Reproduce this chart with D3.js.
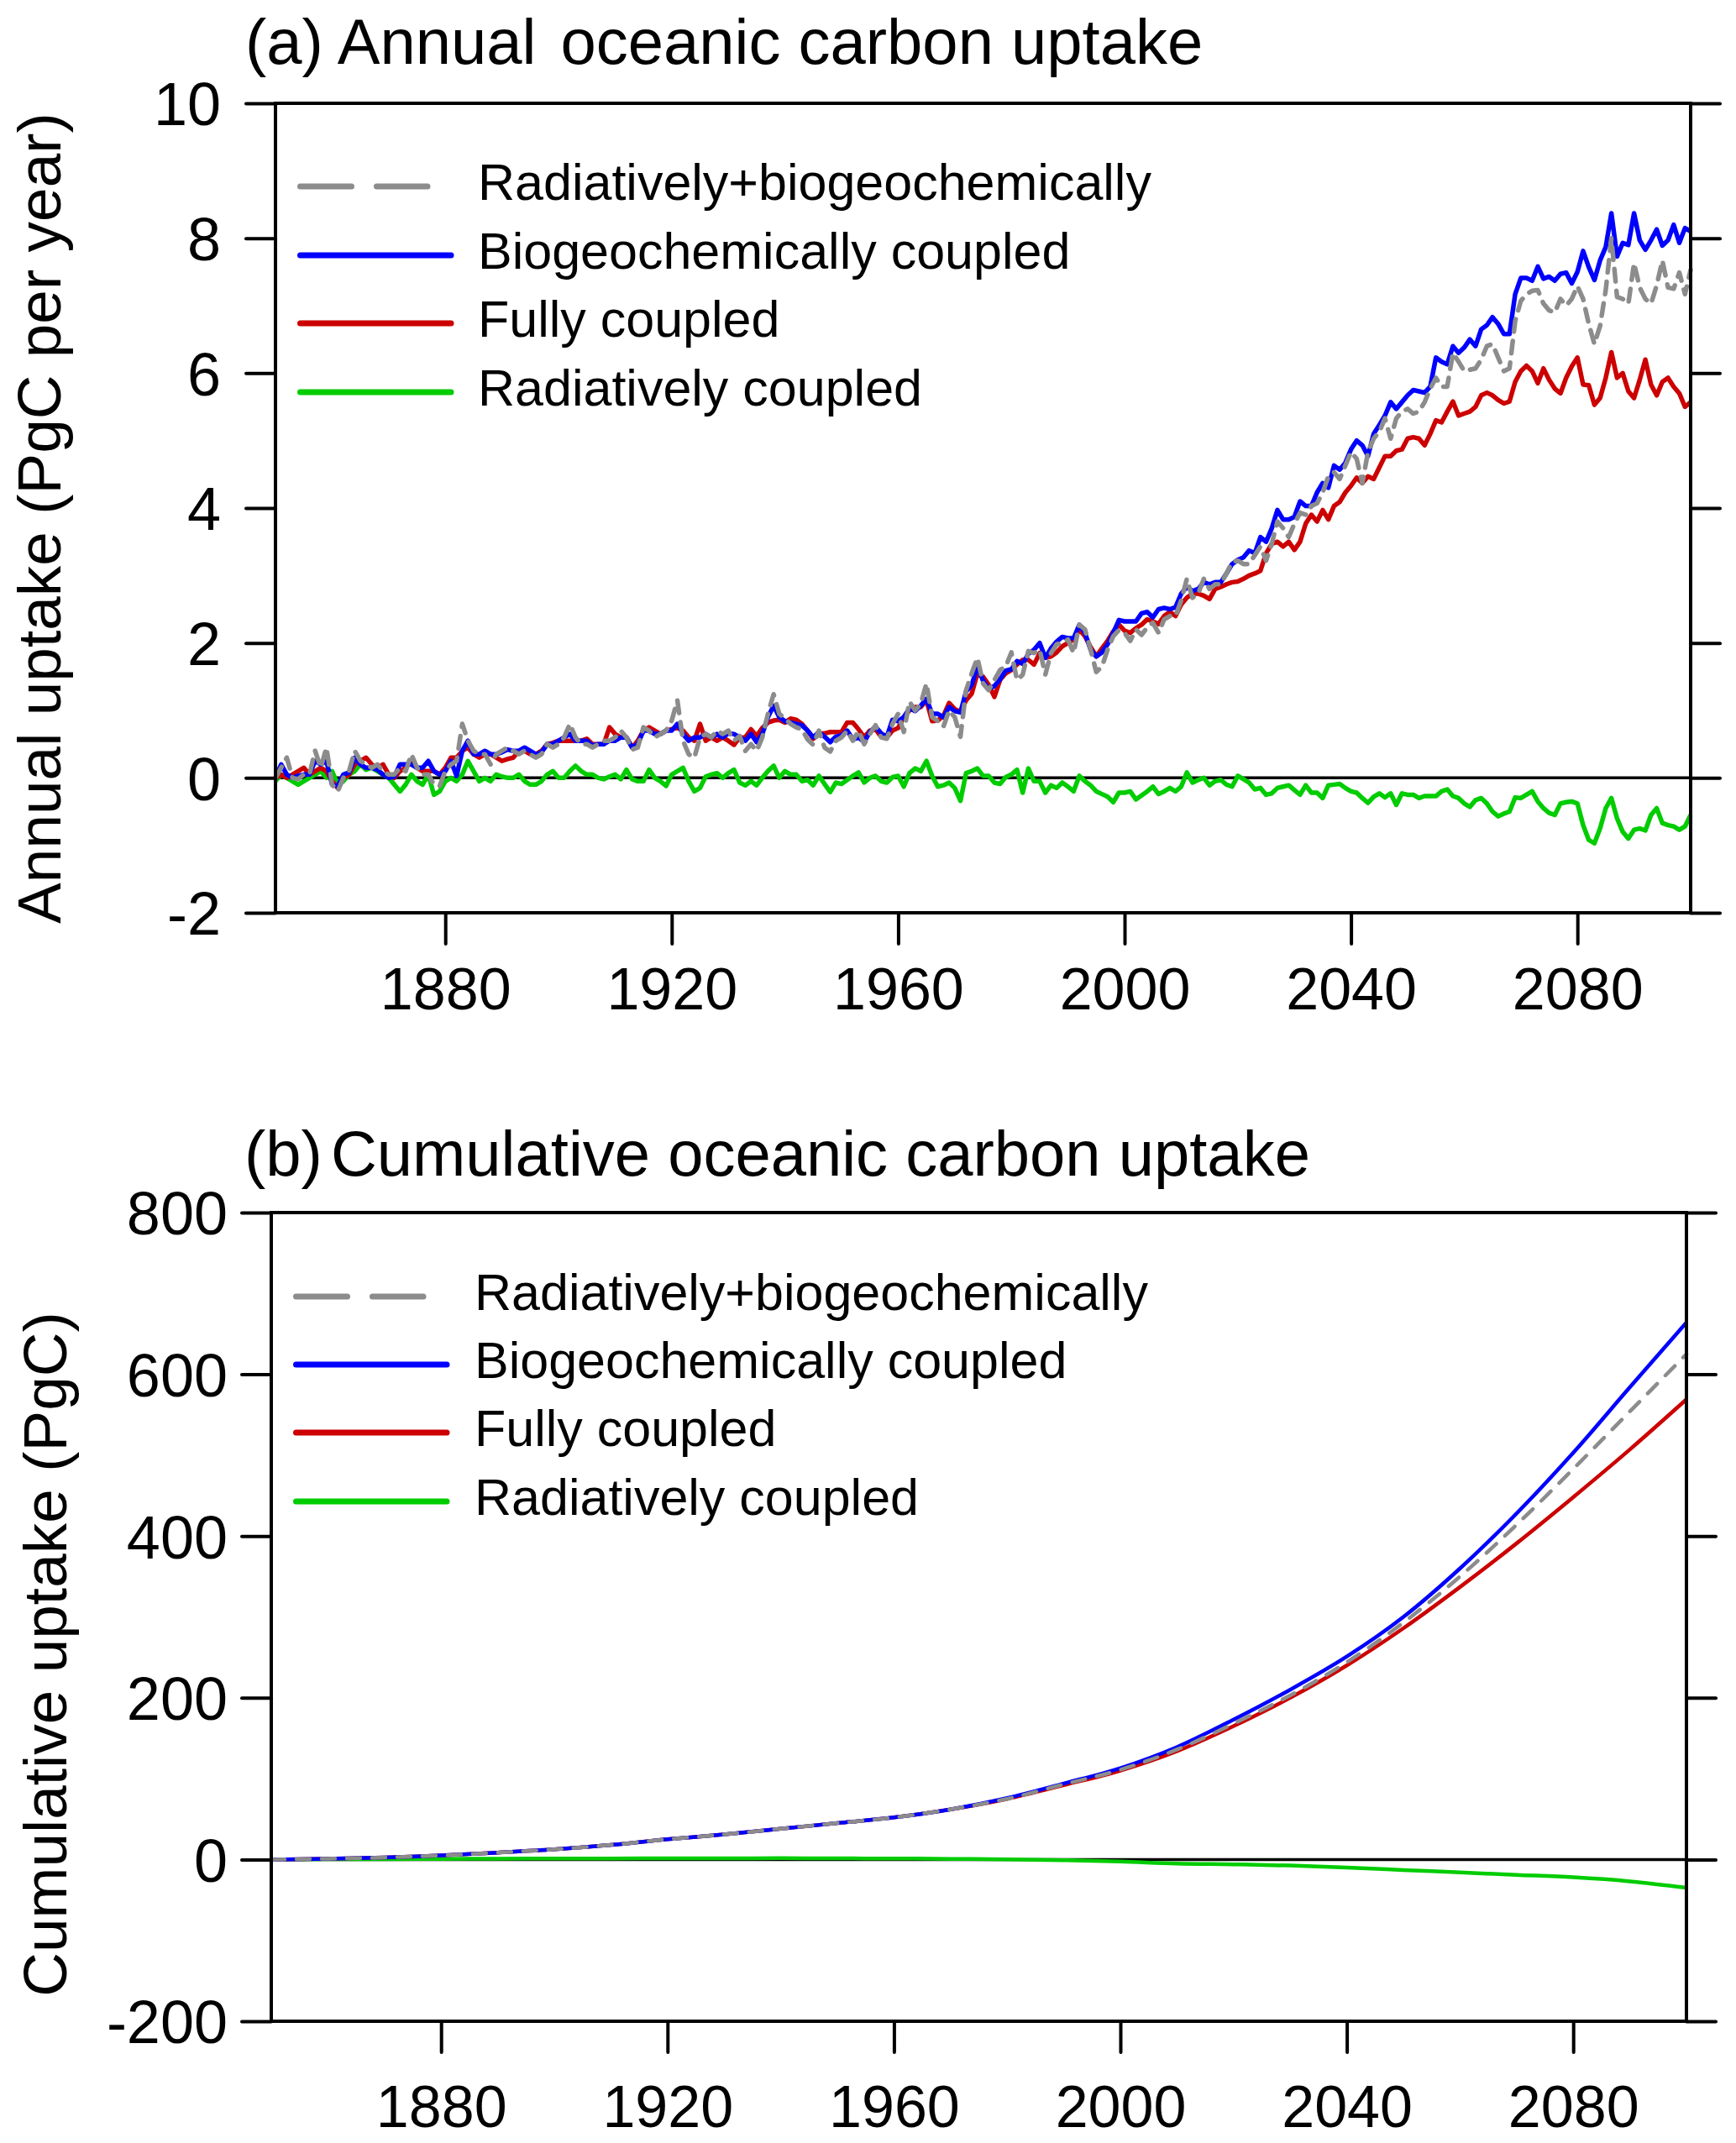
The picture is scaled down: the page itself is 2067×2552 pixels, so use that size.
<!DOCTYPE html>
<html>
<head>
<meta charset="utf-8">
<script src="https://cdn.jsdelivr.net/npm/d3@7"></script>
<style>
  html, body { margin: 0; padding: 0; background: #ffffff; }
  svg { display: block; }
  text { font-family: "Liberation Sans", Arial, Helvetica, sans-serif; fill: #000; }
</style>
</head>
<body>
<svg id="chart" width="2067" height="2552"></svg>
<script>
// ---------------- DATA ----------------
const firstYear = 1850, lastYear = 2100;
const years = d3.range(firstYear, lastYear + 1);

// (a) annual oceanic carbon uptake, PgC per year, 1850..2100
const biogeochemicallyCoupled = [
  0.0,0.2,0.05,0.0,0.03,0.05,0.05,0.25,0.2,0.25,
  -0.1,-0.12,0.05,0.08,0.3,0.2,0.15,0.15,0.12,0.05,
  0.0,0.02,0.2,0.2,0.2,0.15,0.15,0.25,0.1,0.05,
  0.1,0.25,0.03,0.4,0.55,0.35,0.35,0.4,0.35,0.35,
  0.38,0.42,0.4,0.4,0.45,0.4,0.35,0.38,0.5,0.5,
  0.55,0.6,0.65,0.55,0.55,0.55,0.48,0.5,0.5,0.55,
  0.55,0.6,0.6,0.45,0.5,0.7,0.7,0.65,0.65,0.7,
  0.7,0.8,0.65,0.55,0.6,0.6,0.65,0.6,0.65,0.6,
  0.66,0.65,0.6,0.55,0.65,0.53,0.65,0.9,1.07,0.9,
  0.84,0.82,0.8,0.78,0.7,0.6,0.68,0.61,0.53,0.61,
  0.63,0.7,0.57,0.6,0.53,0.68,0.76,0.66,0.61,0.86,
  0.84,0.9,1.03,0.99,1.07,1.17,0.95,0.95,0.9,1.05,
  0.99,0.97,1.28,1.38,1.65,1.44,1.32,1.36,1.46,1.59,
  1.61,1.73,1.69,1.84,1.9,2.0,1.78,1.92,2.02,2.09,
  2.07,2.07,2.27,2.15,1.9,1.8,1.86,1.98,2.15,2.34,
  2.32,2.32,2.32,2.44,2.46,2.38,2.5,2.52,2.5,2.53,
  2.73,2.83,2.77,2.8,2.9,2.87,2.9,2.9,3.03,3.17,
  3.23,3.27,3.37,3.33,3.57,3.5,3.7,3.97,3.83,3.83,
  3.87,4.1,4.03,4.03,4.23,4.37,4.3,4.63,4.57,4.67,
  4.87,5.0,4.93,4.77,5.1,5.23,5.37,5.57,5.47,5.57,
  5.67,5.75,5.73,5.71,5.8,6.23,6.17,6.13,6.4,6.3,
  6.38,6.5,6.4,6.65,6.71,6.83,6.73,6.58,6.58,7.17,
  7.41,7.41,7.37,7.58,7.4,7.43,7.37,7.47,7.49,7.33,
  7.5,7.81,7.57,7.38,7.67,7.87,8.37,7.73,7.93,7.9,
  8.37,7.97,7.83,7.97,8.13,7.89,7.97,8.2,7.93,8.15,
  8.1
];

const fullyCoupled = [
  0.0,0.05,0.0,0.05,0.1,0.15,0.05,0.1,0.15,0.1,
  -0.05,-0.15,0.0,0.05,0.2,0.25,0.3,0.2,0.15,0.2,
  0.05,0.0,0.1,0.15,0.25,0.15,0.1,0.1,0.1,0.05,
  0.15,0.3,0.3,0.4,0.45,0.35,0.3,0.35,0.35,0.3,
  0.25,0.28,0.3,0.4,0.4,0.35,0.35,0.4,0.5,0.52,
  0.55,0.55,0.55,0.55,0.55,0.58,0.5,0.5,0.5,0.75,
  0.65,0.6,0.6,0.45,0.55,0.7,0.75,0.7,0.65,0.7,
  0.72,0.75,0.7,0.6,0.55,0.8,0.55,0.6,0.55,0.6,
  0.55,0.49,0.6,0.6,0.72,0.62,0.74,0.82,0.85,0.86,
  0.82,0.88,0.86,0.8,0.7,0.58,0.65,0.66,0.68,0.68,
  0.68,0.82,0.82,0.72,0.6,0.7,0.72,0.61,0.6,0.7,
  0.74,0.9,1.0,1.05,1.05,1.15,0.84,0.85,0.92,1.11,
  1.02,0.98,1.15,1.25,1.55,1.5,1.38,1.2,1.45,1.55,
  1.6,1.68,1.75,1.75,1.68,1.85,1.78,1.8,1.86,1.95,
  2.0,2.05,2.2,2.1,1.94,1.8,1.92,2.03,2.17,2.27,
  2.18,2.15,2.22,2.27,2.35,2.32,2.28,2.4,2.46,2.4,
  2.57,2.67,2.73,2.73,2.7,2.65,2.8,2.83,2.87,2.9,
  2.91,2.95,3.0,3.03,3.07,3.33,3.47,3.5,3.43,3.5,
  3.38,3.5,3.77,3.9,3.8,3.97,3.83,4.03,4.09,4.23,
  4.33,4.45,4.37,4.47,4.43,4.6,4.77,4.77,4.85,4.87,
  5.03,5.05,5.03,4.93,5.1,5.3,5.27,5.43,5.58,5.37,
  5.4,5.43,5.5,5.67,5.71,5.67,5.6,5.55,5.58,5.87,
  6.03,6.11,6.03,5.85,6.07,5.9,5.77,5.7,5.93,6.1,
  6.23,5.83,5.82,5.53,5.63,5.93,6.31,5.93,6.0,5.73,
  5.63,5.9,6.2,5.83,5.67,5.87,5.93,5.8,5.7,5.5,
  5.57
];

const radiativelyPlusBiogeochemically = [
  0.0,0.15,0.3,0.0,-0.02,0.05,0.05,0.4,0.15,0.45,
  -0.1,-0.2,0.0,0.1,0.4,0.25,0.2,0.15,0.2,0.1,
  0.05,0.05,0.15,0.1,0.35,0.15,0.05,0.05,-0.1,-0.12,
  0.1,0.2,0.25,0.8,0.55,0.4,0.35,0.35,0.2,0.35,
  0.4,0.45,0.4,0.35,0.4,0.35,0.3,0.35,0.5,0.45,
  0.5,0.6,0.8,0.6,0.5,0.5,0.45,0.5,0.55,0.55,
  0.6,0.7,0.6,0.42,0.45,0.75,0.7,0.6,0.65,0.7,
  0.85,1.15,0.55,0.35,0.3,0.6,0.65,0.6,0.7,0.65,
  0.7,0.55,0.62,0.4,0.5,0.4,0.6,0.95,1.24,0.95,
  0.88,0.8,0.75,0.72,0.57,0.49,0.7,0.45,0.39,0.55,
  0.6,0.7,0.55,0.7,0.5,0.65,0.78,0.6,0.58,0.8,
  0.95,0.68,1.13,1.0,1.1,1.4,0.9,0.84,0.76,1.0,
  0.9,0.61,1.3,1.55,1.78,1.4,1.3,1.45,1.6,1.65,
  1.86,1.45,1.53,1.88,1.85,1.9,1.53,1.85,1.98,2.0,
  2.05,1.85,2.27,2.2,1.9,1.57,1.65,1.9,2.1,2.19,
  2.15,2.03,2.2,2.12,2.23,2.3,2.15,2.35,2.4,2.4,
  2.63,2.95,2.67,2.73,2.95,2.8,2.87,2.87,3.03,3.2,
  3.22,3.17,3.17,3.3,3.43,3.22,3.47,3.8,3.7,3.57,
  3.77,3.93,3.9,4.03,4.07,4.23,4.47,4.53,4.43,4.63,
  4.83,4.73,4.37,4.83,5.03,5.13,5.33,5.03,5.33,5.43,
  5.47,5.4,5.43,5.57,5.77,5.93,5.8,5.8,6.3,6.17,
  6.03,6.05,6.07,6.2,6.4,6.43,6.23,6.03,6.07,6.77,
  7.07,7.17,7.22,7.23,7.03,6.93,6.9,7.1,7.0,7.1,
  7.29,7.1,6.73,6.43,6.7,7.23,8.0,7.13,7.1,7.03,
  7.63,7.27,7.1,7.03,7.3,7.67,7.27,7.25,7.49,7.17,
  7.53
];

const radiativelyCoupled = [
  -0.05,0.05,0.0,-0.05,-0.1,-0.05,0.0,0.05,0.1,0.0,
  0.1,-0.1,-0.05,0.05,0.1,0.2,0.12,0.15,0.1,0.05,
  0.0,-0.1,-0.2,-0.1,0.05,-0.05,-0.1,0.05,-0.25,-0.2,
  -0.05,0.0,-0.05,0.05,0.25,0.1,-0.05,0.0,-0.05,0.05,
  0.02,0.0,0.0,0.05,-0.05,-0.1,-0.1,-0.05,0.05,0.1,
  0.0,0.0,0.1,0.18,0.1,0.05,0.05,0.0,-0.02,0.02,
  0.05,-0.02,0.12,-0.02,-0.05,-0.05,0.12,0.0,-0.05,-0.12,
  0.05,0.1,0.15,-0.05,-0.2,-0.15,0.02,0.05,0.07,0.0,
  0.07,0.12,-0.07,-0.11,-0.05,-0.11,0.0,0.1,0.18,0.0,
  0.1,0.05,0.05,-0.05,-0.03,-0.11,0.03,-0.09,-0.21,-0.07,
  -0.09,-0.03,0.03,0.08,-0.07,0.0,0.03,-0.05,-0.07,0.01,
  0.03,-0.13,0.07,0.14,0.1,0.25,0.03,-0.13,-0.11,-0.07,
  -0.15,-0.34,0.07,0.1,0.14,0.03,0.03,-0.07,-0.09,0.01,
  0.05,0.12,-0.22,0.14,-0.05,-0.05,-0.22,-0.11,-0.15,-0.07,
  -0.13,-0.2,0.03,-0.05,-0.11,-0.2,-0.24,-0.28,-0.36,-0.22,
  -0.22,-0.2,-0.32,-0.26,-0.2,-0.13,-0.24,-0.2,-0.15,-0.2,
  -0.13,0.08,-0.07,-0.03,0.0,-0.11,-0.05,-0.03,-0.1,-0.13,
  0.03,-0.02,-0.07,-0.17,-0.15,-0.25,-0.23,-0.15,-0.13,-0.11,
  -0.18,-0.25,-0.11,-0.22,-0.22,-0.3,-0.11,-0.1,-0.09,-0.15,
  -0.2,-0.22,-0.3,-0.37,-0.28,-0.23,-0.29,-0.23,-0.4,-0.23,
  -0.25,-0.25,-0.3,-0.27,-0.27,-0.27,-0.2,-0.17,-0.27,-0.3,
  -0.38,-0.43,-0.33,-0.3,-0.38,-0.5,-0.57,-0.53,-0.5,-0.29,
  -0.3,-0.25,-0.2,-0.35,-0.45,-0.52,-0.55,-0.38,-0.36,-0.35,
  -0.38,-0.7,-0.92,-0.97,-0.75,-0.45,-0.3,-0.6,-0.8,-0.9,
  -0.77,-0.75,-0.78,-0.55,-0.45,-0.67,-0.7,-0.72,-0.77,-0.72,
  -0.55
];

// (b) cumulative oceanic carbon uptake, PgC, every 10 years 1850..2100
const cumYears = [1850,1860,1870,1880,1890,1900,1910,1920,1930,1940,1950,1960,1970,
                  1980,1990,2000,2010,2020,2030,2040,2050,2060,2070,2080,2090,2100];
const cumBiogeochemically = [0,1,2.5,5,8.5,12.5,18,25,31,38,45,52,62,76,94,113,139,173,210,251,300,360,428,503,584,664];
const cumFully           = [0,1,2.5,5,8.5,12.5,18,25,31,38,45,52,62,75,92,110,134,165,200,240,286,337,391,448,507,569];
const cumRadPlusBgc      = [0,1,2.5,5,8.5,12.5,18,25,31,38,45,52,62,75,93,111,136,168,203,244,293,350,414,483,554,625];
const cumRadiatively     = [0,0.3,0.5,0.8,1,1.2,1.3,1.5,1.5,1.6,1.4,1.2,0.8,0.2,-0.8,-2.5,-5,-6,-7.5,-10,-13,-16,-19,-22,-27,-35];

const seriesNames = ["Radiatively+biogeochemically", "Biogeochemically coupled", "Fully coupled", "Radiatively coupled"];
const seriesColors = ["#8c8c8c", "#0000ff", "#cc0000", "#00cc00"];

const xTicks = [1880, 1920, 1960, 2000, 2040, 2080];
const yTicksA = [-2, 0, 2, 4, 6, 8, 10];
const yTicksB = [-200, 0, 200, 400, 600, 800];

const titleA = ["(a)", "Annual", "oceanic carbon uptake"];
const titleB = ["(b)", "Cumulative oceanic carbon uptake"];
const yLabelA = "Annual uptake (PgC per year)";
const yLabelB = "Cumulative uptake (PgC)";

// ---------------- DRAW ----------------
const svg = d3.select("#chart");
svg.append("rect").attr("width", 2067).attr("height", 2552).attr("fill", "#fff");

function drawPanel(cfg) {
  const x = d3.scaleLinear().domain([firstYear, lastYear]).range([cfg.left, cfg.right]);
  const y = d3.scaleLinear().domain(cfg.yDomain).range([cfg.bottom, cfg.top]);
  const g = svg.append("g");

  // zero line
  g.append("line")
    .attr("x1", cfg.left).attr("x2", cfg.right)
    .attr("y1", y(0)).attr("y2", y(0))
    .attr("stroke", "#000").attr("stroke-width", 3.5);

  // data lines (order: green, red, blue, gray on top)
  const order = [3, 2, 1, 0];
  const line = d3.line().x(d => x(d[0])).y(d => y(d[1]));
  if (cfg.smooth) line.curve(d3.curveMonotoneX);
  order.forEach(i => {
    const vals = cfg.series[i];
    const pts = cfg.xs.map((yr, k) => [yr, vals[k]]);
    const p = g.append("path")
      .attr("d", line(pts))
      .attr("fill", "none")
      .attr("stroke", seriesColors[i])
      .attr("stroke-width", cfg.lineWidth)
      .attr("stroke-linejoin", "round");
    if (i === 0) p.attr("stroke-dasharray", cfg.dash).attr("stroke-linecap", "round");
  });

  // axes
  const axL = d3.axisLeft(y).tickValues(cfg.yTicks).tickSize(35).tickPadding(cfg.yPad);
  const axR = d3.axisRight(y).tickValues(cfg.yTicks).tickSize(35).tickFormat("");
  const axB = d3.axisBottom(x).tickValues(xTicks).tickSize(37).tickPadding(cfg.xPad).tickFormat(d3.format("d"));

  const gl = g.append("g").attr("transform", `translate(${cfg.left},0)`).call(axL);
  const gr = g.append("g").attr("transform", `translate(${cfg.right},0)`).call(axR);
  const gb = g.append("g").attr("transform", `translate(0,${cfg.bottom})`).call(axB);
  [gl, gr, gb].forEach(a => {
    a.select(".domain").remove();
    a.selectAll(".tick line").attr("stroke", "#000").attr("stroke-width", 4).attr("stroke-linecap", "round");
  });
  gl.selectAll(".tick text").attr("font-size", 72).attr("dy", "0.36em")
    .style("font-family", '"Liberation Sans", Arial, sans-serif').attr("fill", "#000")
    .text(d => d < 0 ? "-" + Math.abs(d) : d);
  gb.selectAll(".tick text").attr("font-size", 70)
    .style("font-family", '"Liberation Sans", Arial, sans-serif').attr("fill", "#000");

  // frame
  const frame = [
    [cfg.left, cfg.top, cfg.right, cfg.top],
    [cfg.left, cfg.bottom, cfg.right, cfg.bottom],
    [cfg.left, cfg.top, cfg.left, cfg.bottom],
    [cfg.right, cfg.top, cfg.right, cfg.bottom]
  ];
  frame.forEach(f => g.append("line")
    .attr("x1", f[0]).attr("y1", f[1]).attr("x2", f[2]).attr("y2", f[3])
    .attr("stroke", "#000").attr("stroke-width", 4).attr("stroke-linecap", "square"));

  // title
  const t = g.append("text").attr("x", cfg.titleX).attr("y", cfg.titleY).attr("font-size", 76);
  cfg.title.forEach((s, k) => {
    const ts = t.append("tspan").text(s);
    if (k > 0) ts.attr("dx", cfg.titleGaps[k - 1]);
  });

  // y label
  g.append("text")
    .attr("transform", `translate(${cfg.yLabelX},${cfg.yLabelY}) rotate(-90)`)
    .attr("text-anchor", "middle").attr("font-size", 73)
    .text(cfg.yLabel);

  // legend
  seriesNames.forEach((name, i) => {
    const ly = cfg.legendY[i];
    const l = g.append("line")
      .attr("x1", cfg.legendX0 + 3.5).attr("x2", (i === 0 ? cfg.legendX0 + 155 : cfg.legendX0 + 183))
      .attr("y1", ly).attr("y2", ly)
      .attr("stroke", seriesColors[i]).attr("stroke-width", 7).attr("stroke-linecap", "round");
    if (i === 0) l.attr("stroke-dasharray", "61,30");
    g.append("text").attr("x", cfg.legendTextX).attr("y", ly + 16)
      .attr("font-size", 61).text(name);
  });
}

drawPanel({
  left: 328, right: 2013, top: 123, bottom: 1087,
  yDomain: [-2, 10], yTicks: yTicksA, yPad: 30, xPad: 28,
  xs: years,
  series: [radiativelyPlusBiogeochemically, biogeochemicallyCoupled, fullyCoupled, radiativelyCoupled],
  smooth: false, lineWidth: 5.5, dash: "15,11",
  title: [titleA[0] + " " + titleA[1], titleA[2]], titleGaps: [29], titleX: 292, titleY: 76,
  yLabel: yLabelA, yLabelX: 72, yLabelY: 617,
  legendX0: 354, legendTextX: 569, legendY: [222, 304, 385, 467]
});

drawPanel({
  left: 323, right: 2008, top: 1444, bottom: 2407,
  yDomain: [-200, 800], yTicks: yTicksB, yPad: 17, xPad: 39,
  xs: cumYears,
  series: [cumRadPlusBgc, cumBiogeochemically, cumFully, cumRadiatively],
  smooth: true, lineWidth: 4.5, dash: "16,14",
  title: titleB, titleGaps: [10], titleX: 291, titleY: 1400,
  yLabel: yLabelB, yLabelX: 79, yLabelY: 1970,
  legendX0: 349, legendTextX: 565, legendY: [1544, 1625, 1706, 1788]
});
</script>
</body>
</html>
